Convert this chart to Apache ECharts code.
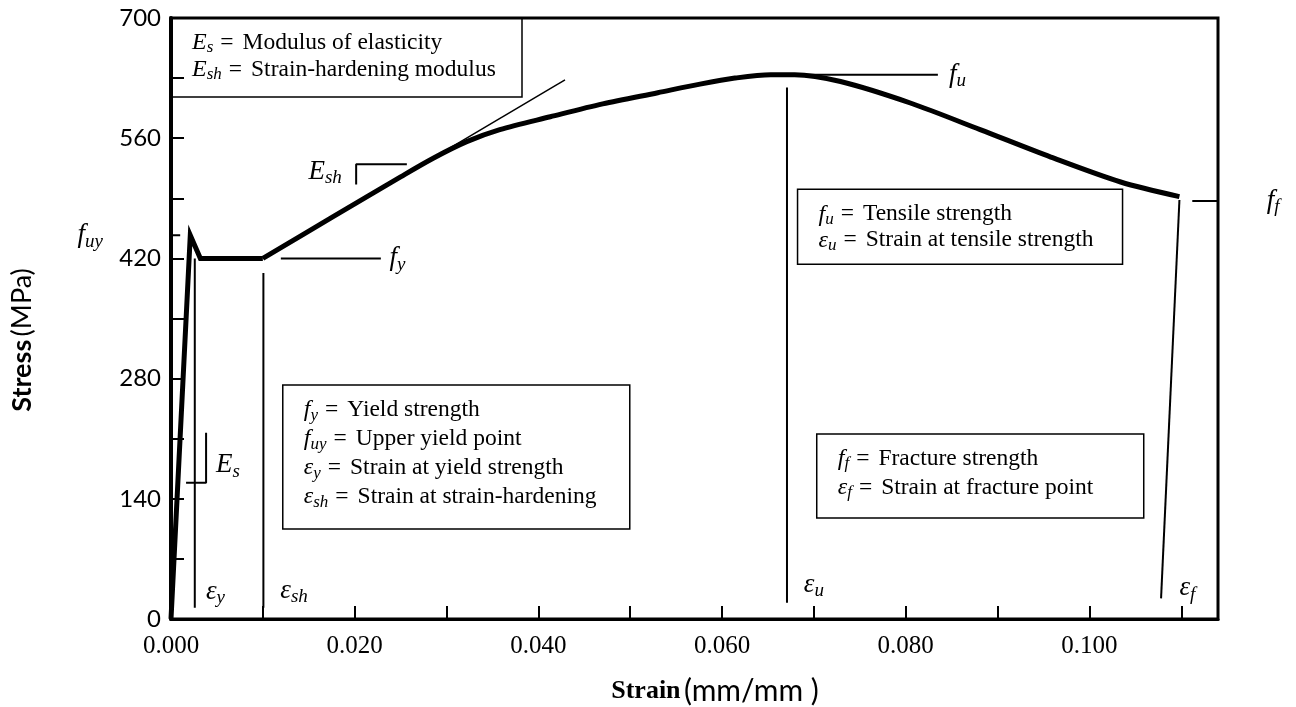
<!DOCTYPE html>
<html>
<head>
<meta charset="utf-8">
<script src="https://cdn.jsdelivr.net/npm/echarts@6/dist/echarts.min.js"></script>
<style>
  html, body { margin: 0; padding: 0; background: #fff; }
  #chart { width: 1296px; height: 707px; }
</style>
</head>
<body>
<div id="chart"></div>
<script>
// stress-strain curve: strain (mm/mm), stress (MPa)
const elasticStrain = [0, 0.0021, 0.0032, 0.0100]
const elasticStress = [0, 447, 420, 420]

const hardeningStrain = [0.0100, 0.0177, 0.0250, 0.0286, 0.0322, 0.0358, 0.0413, 0.0470, 0.0530, 0.0576,
  0.0614, 0.0653, 0.0679, 0.0729, 0.0805, 0.0881, 0.0958, 0.1034, 0.1098]
const hardeningStress = [420, 469, 515, 537, 556, 570, 585, 600, 613, 623,
  630, 634, 634, 626, 601, 570, 538, 509, 492]

// tangent for the strain-hardening modulus
const tangentStrain = [0.0200, 0.0429]
const tangentStress = [483, 628]

// thin marker lines: [strain list, stress list]
const fuyLine = [[-0.0063, 0.0010], [447, 447]]
const epsYLine = [[0.00259, 0.00259], [13, 420]]
const esMark = [[0.00164, 0.00382, 0.00382], [158.7, 158.7, 217]]
const epsShLine = [[0.01006, 0.01006], [13, 403]]
const fyLine = [[0.01196, 0.02285], [420, 420]]
const eshMark = [[0.02016, 0.02016, 0.02568], [506, 529.6, 529.6]]
const fuLine = [[0.0680, 0.0835], [634, 634]]
const epsULine = [[0.06707, 0.06707], [19, 619]]
const ffLine = [[0.1112, 0.1185], [487, 487]]
const epsFLine = [[0.1098, 0.1078], [488, 24]]

// symbols next to the marker lines: [base, subscript]
const symbolText = [['f', 'uy'], ['f', 'y'], ['E', 'sh'], ['E', 's'], ['ε', 'y'], ['ε', 'sh'], ['f', 'u'], ['ε', 'u'], ['f', 'f'], ['ε', 'f']]
const symbolStrain = [-0.0074, 0.0238, 0.0186, 0.0049, 0.0038, 0.0119, 0.0847, 0.0689, 0.1193, 0.1098]
const symbolStress = [447, 420, 521, 179, 32, 33, 634, 40, 487, 36]
const symbolAlign = ['right', 'left', 'right', 'left', 'left', 'left', 'left', 'left', 'left', 'left']

// legend boxes
const boxLines = [
  [['E', 's', 'Modulus of elasticity'], ['E', 'sh', 'Strain-hardening modulus']],
  [['f', 'y', 'Yield strength'], ['f', 'uy', 'Upper yield point'], ['ε', 'y', 'Strain at yield strength'], ['ε', 'sh', 'Strain at strain-hardening']],
  [['f', 'u', 'Tensile strength'], ['ε', 'u', 'Strain at tensile strength']],
  [['f', 'f', 'Fracture strength'], ['ε', 'f', 'Strain at fracture point']]
]
const boxStrain = [0, 0.01217, 0.06822, 0.07031]
const boxStress = [700, 272.5, 500.5, 215.5]

const xTicks = { min: 0, max: 0.114, step: 0.01 }
const yTicks = { min: 0, max: 700, step: 70 }

const zip = (xs, ys) => xs.map((x, i) => [x, ys[i]])

const serif = 'Liberation Serif'
const sans = 'Lato'
const rich = {
  i: { fontFamily: serif, fontStyle: 'italic', fontSize: 27, color: '#000' },
  s: { fontFamily: serif, fontStyle: 'italic', fontSize: 19, color: '#000', padding: [13, 0, 0, 0] },
  bi: { fontFamily: serif, fontStyle: 'italic', fontSize: 24, color: '#000' },
  bs: { fontFamily: serif, fontStyle: 'italic', fontSize: 17, color: '#000', padding: [11, 0, 0, 0] },
  e: { fontFamily: serif, fontSize: 23.5, color: '#000', padding: [0, 9, 0, 7] },
  t: { fontFamily: serif, fontSize: 23.5, color: '#000' }
}

const boxLayout = [
  { w: 351, h: 79, lh: 27, pt: 11 },
  { w: 347, h: 144, lh: 29, pt: 10 },
  { w: 325, h: 75, lh: 26, pt: 12 },
  { w: 327, h: 84, lh: 29, pt: 10 }
]

const chart = echarts.init(document.getElementById('chart'))

const thin = (xy, width) => ({
  type: 'line',
  data: zip(xy[0], xy[1]),
  symbol: 'none',
  clip: false,
  silent: true,
  lineStyle: { color: '#000', width: width || 2 }
})

const markerSeries = [fuyLine, epsYLine, esMark, epsShLine, fyLine, eshMark, fuLine, epsULine, ffLine, epsFLine]
  .map((xy) => thin(xy, 2))

const symbolSeries = {
  type: 'scatter',
  symbolSize: 0,
  clip: false,
  silent: true,
  itemStyle: { color: 'transparent', opacity: 1 },
  data: symbolText.map((t, i) => ({
    value: [symbolStrain[i], symbolStress[i]],
    label: {
      show: true,
      position: [0, 0],
      align: symbolAlign[i],
      verticalAlign: 'middle',
      formatter: `{i|${t[0]}}{s|${t[1]}}`,
      rich
    }
  }))
}

const boxSeries = {
  type: 'scatter',
  symbolSize: 0,
  clip: false,
  silent: true,
  itemStyle: { color: 'transparent', opacity: 1 },
  data: boxLines.map((lines, i) => {
    const b = boxLayout[i]
    return {
      value: [boxStrain[i], boxStress[i]],
      label: {
        show: true,
        position: [0, 0],
        align: 'left',
        verticalAlign: 'top',
        width: b.w - 21,
        height: b.h - b.pt,
        lineHeight: b.lh,
        padding: [b.pt, 0, 0, 21],
        borderColor: '#000',
        borderWidth: 1.5,
        formatter: lines.map((l) => `{bi|${l[0]}}{bs|${l[1]}}{e|=}{t|${l[2]}}`).join('\n'),
        rich
      }
    }
  })
}

chart.setOption({
  animation: false,
  grid: { left: 171, right: 78, top: 18, bottom: 88, show: true, borderColor: '#000', borderWidth: 3 },
  xAxis: {
    type: 'value',
    min: xTicks.min,
    max: xTicks.max,
    interval: xTicks.step,
    axisLine: { lineStyle: { color: '#000', width: 3 } },
    axisTick: { inside: true, length: 13, lineStyle: { color: '#000', width: 2 } },
    splitLine: { show: false },
    axisLabel: {
      color: '#000',
      fontFamily: serif,
      fontSize: 25,
      margin: 15,
      formatter: (v) => (Math.round(v * 1000) % 20 === 0 ? v.toFixed(3) : '')
    }
  },
  yAxis: {
    type: 'value',
    min: yTicks.min,
    max: yTicks.max,
    interval: yTicks.step,
    axisLine: { lineStyle: { color: '#000', width: 4 } },
    axisTick: { inside: true, length: 13, lineStyle: { color: '#000', width: 2 } },
    splitLine: { show: false },
    axisLabel: {
      color: '#000',
      fontFamily: sans,
      fontSize: 24,
      margin: 10,
      formatter: (v) => (v % 140 === 0 ? String(v) : '')
    }
  },
  graphic: [
    {
      type: 'text',
      x: 22,
      y: 340,
      rotation: Math.PI / 2,
      style: {
        text: '{b|Stress} {r|(MPa)}',
        align: 'center',
        verticalAlign: 'middle',
        rich: {
          b: { fontFamily: sans, fontWeight: 'bold', fontSize: 27, fill: '#000' },
          r: { fontFamily: sans, fontSize: 27, fill: '#000' }
        }
      }
    },
    {
      type: 'text',
      x: 715,
      y: 691,
      style: {
        text: '{b|Strain} {r|(mm/mm )}',
        align: 'center',
        verticalAlign: 'middle',
        rich: {
          b: { fontFamily: serif, fontWeight: 'bold', fontSize: 26, fill: '#000' },
          r: { fontFamily: sans, fontSize: 30, fill: '#000' }
        }
      }
    }
  ],
  series: [
    boxSeries,
    thin([tangentStrain, tangentStress], 1.5),
    ...markerSeries,
    {
      type: 'line',
      data: zip(elasticStrain, elasticStress),
      symbol: 'none',
      silent: true,
      lineStyle: { color: '#000', width: 5, join: 'miter' }
    },
    {
      type: 'line',
      data: zip(hardeningStrain, hardeningStress),
      symbol: 'none',
      smooth: 0.3,
      silent: true,
      lineStyle: { color: '#000', width: 5 }
    },
    symbolSeries
  ]
})
</script>
</body>
</html>
